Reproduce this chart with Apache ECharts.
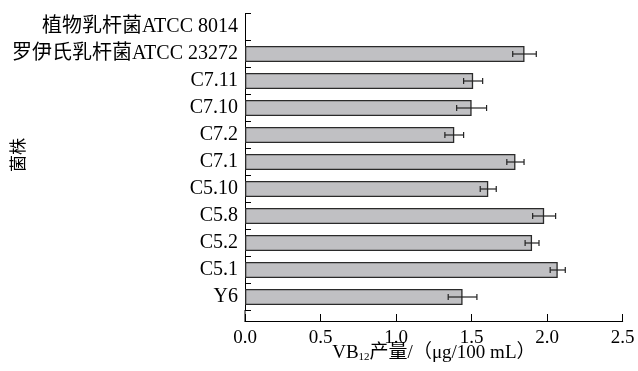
<!DOCTYPE html>
<html>
<head>
<meta charset="utf-8">
<script src="https://cdn.jsdelivr.net/npm/echarts@6/dist/echarts.min.js"></script>
<style>html,body{margin:0;padding:0;background:#fff;}#c{width:638px;height:371px;}</style>
</head>
<body>
<div id="c"></div>
<script>
const categories = ['植物乳杆菌ATCC 8014','罗伊氏乳杆菌ATCC 23272','C7.11','C7.10','C7.2','C7.1','C5.10','C5.8','C5.2','C5.1','Y6'];
const values = [null, 1.85, 1.51, 1.50, 1.385, 1.79, 1.61, 1.98, 1.90, 2.07, 1.44];
const errors = [null, 0.078, 0.063, 0.099, 0.062, 0.057, 0.053, 0.076, 0.046, 0.050, 0.095];
const xTicks = [0, 0.5, 1.0, 1.5, 2.0, 2.5];

const FONT = "'Liberation Serif', 'Noto Sans CJK SC', serif";
const errData = values.map((v, i) => v == null ? null : [v, errors[i], i]).filter(d => d);

const chart = echarts.init(document.getElementById('c'), null, {renderer: 'canvas'});
chart.setOption({
  animation: false,
  backgroundColor: '#fff',
  grid: {left: 245, top: 13.5, height: 297, right: 15.3, containLabel: false, outerBoundsMode: 'none'},
  xAxis: {
    type: 'value', min: xTicks[0], max: xTicks[xTicks.length - 1], interval: 0.5,
    offset: 10.5,
    axisLine: {show: true, onZero: false, lineStyle: {color: '#000', width: 1}},
    axisTick: {show: true, inside: true, length: 7, lineStyle: {color: '#000'}},
    splitLine: {show: false},
    axisLabel: {color: '#000', fontFamily: FONT, fontSize: 19, margin: 8, formatter: v => v.toFixed(1)},
    name: 'VB{s|12}产量/（μg/100 mL）',
    nameLocation: 'middle', nameGap: 22, nameMoveOverlap: false,
    nameTextStyle: {color: '#000', fontFamily: FONT, fontSize: 19,
      rich: {s: {fontSize: 11, fontFamily: FONT, color: '#000', padding: [9, 0, 0, 0]}}}
  },
  yAxis: {
    type: 'category', data: categories, inverse: true,
    axisLine: {show: true, lineStyle: {color: '#000', width: 1}},
    axisTick: {show: true, inside: true, length: 6, lineStyle: {color: '#000'}},
    axisLabel: {color: '#000', fontFamily: FONT, fontSize: 20, margin: 7},
    name: '菌株', nameLocation: 'middle', nameRotate: 90, nameGap: 217, nameMoveOverlap: false,
    nameTextStyle: {color: '#000', fontFamily: FONT, fontSize: 17, padding: [0, 0, 0, 14]}
  },
  graphic: [{type: 'line', shape: {x1: 245, y1: 310, x2: 245, y2: 321.5}, style: {stroke: '#000', lineWidth: 1}}],
  series: [
    {
      type: 'bar', data: values, barWidth: 16,
      itemStyle: {color: '#c0c0c3', borderColor: '#2a2a2a', borderWidth: 1.3}
    },
    {
      type: 'custom', data: errData, encode: {x: 0, y: 2}, z: 5,
      renderItem: function (params, api) {
        const v = api.value(0), e = api.value(1), idx = api.value(2);
        const a = api.coord([v - e, idx]);
        const b = api.coord([v + e, idx]);
        const h = 3;
        const st = {stroke: '#222', lineWidth: 1.2};
        return {type: 'group', children: [
          {type: 'line', shape: {x1: a[0], y1: a[1], x2: b[0], y2: b[1]}, style: st},
          {type: 'line', shape: {x1: a[0], y1: a[1] - h, x2: a[0], y2: a[1] + h}, style: st},
          {type: 'line', shape: {x1: b[0], y1: b[1] - h, x2: b[0], y2: b[1] + h}, style: st}
        ]};
      }
    }
  ]
});
</script>
</body>
</html>
